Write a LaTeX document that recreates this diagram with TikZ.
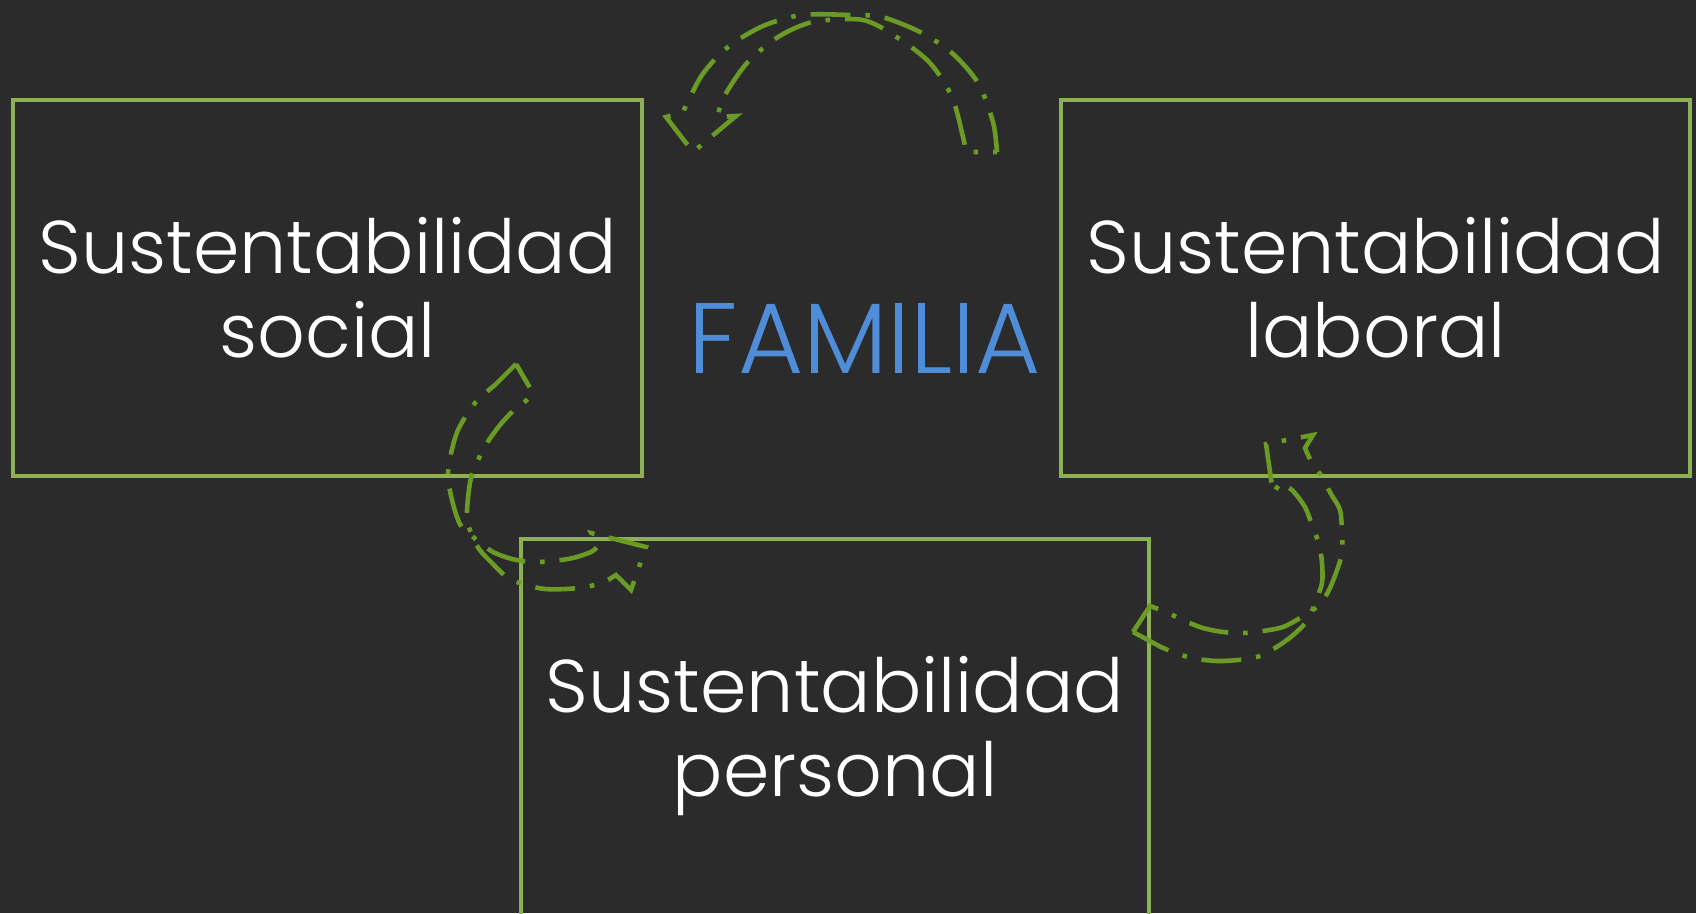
\documentclass[tikz,border=0pt]{standalone}
\usepackage{fontspec}
\setmainfont{Poppins}[UprightFont=* Light]
\usetikzlibrary{fit}
\definecolor{bg}{HTML}{2B2B2B}
\definecolor{boxgreen}{HTML}{8DB050}
\definecolor{arrowgreen}{HTML}{6A9B25}
\definecolor{famblue}{HTML}{4F8DD8}
\begin{document}
\begin{tikzpicture}[x=0.02cm,y=-0.02cm,
  boxframe/.style={draw=boxgreen,line width=2.5pt,inner sep=0pt,outer sep=0pt},
  boxtext/.style={text=white,font=\fontsize{42.5}{50}\selectfont,anchor=base,inner sep=0pt},
  famtext/.style={text=famblue,font=\fontsize{57}{64}\selectfont,anchor=base,inner sep=0pt},
  cyc/.style={draw=arrowgreen,line width=2.6pt,dash pattern=on 22.7pt off 8.5pt on 2.6pt off 8.5pt,line join=miter}]
\useasboundingbox (0,0) rectangle (1696,913);
\fill[bg] (0,0) rectangle (1696,913);
% boxes
\coordinate (s1) at (13,100); \coordinate (s2) at (642,476);
\coordinate (l1) at (1061,100); \coordinate (l2) at (1690,476);
\coordinate (p1) at (521,539); \coordinate (p2) at (1149,916);
\node[boxframe,fit=(s1)(s2)] (social) {};
\node[boxframe,fit=(l1)(l2)] (laboral) {};
\node[boxframe,fit=(p1)(p2)] (personal) {};
% texts
\node[boxtext] (socialA) at (327.5,273) {Sustentabilidad};
\node[boxtext] (socialB) at (327.5,357) {social};
\node[boxtext] (laboralA) at (1375.5,273) {Sustentabilidad};
\node[boxtext] (laboralB) at (1375.5,357) {laboral};
\node[boxtext] (personalA) at (835,712) {Sustentabilidad};
\node[boxtext] (personalB) at (835,796) {personal};
\node[famtext] (familia) at (865,373) {FAMILIA};
% circular arrows
\draw[cyc] (997,152) -- plot[smooth] coordinates {(997,152) (993,122) (978,83) (952,53) (920,32) (882,17) (850,15) (802,15) (763,26) (728,47) (702,75) (683,112)}
  -- (666,117) -- (693,152) -- (736,116) -- (717,117)
  -- plot[smooth] coordinates {(717,117) (725,95) (747,63) (778,37) (813,22) (863,20) (898,38) (930,63) (952,97) (963,137) (966,152)} -- cycle;
\draw[cyc] (516,364) -- plot[smooth] coordinates {(495,385) (475,403) (458,430) (450,458) (448,478) (452,500) (457,517) (462,527) (478,541) (493,552) (512,559) (532,562) (553,561) (573,558) (591,552) (597,547)}
  -- (591,533) -- (646,547) -- (631,590)
  -- plot[smooth] coordinates {(616,575) (604,582) (586,587) (566,589) (545,589) (526,585) (508,578) (493,564) (479,549) (471,533) (467,518) (468,498) (471,478) (478,460) (487,443) (500,425) (513,411) (528,399) (533,393)} -- cycle;
\draw[cyc] (1133,632) -- plot[smooth] coordinates {(1161,647) (1178,654) (1197,659) (1218,661) (1238,660) (1257,657) (1275,648) (1292,636) (1307,621) (1315,603) (1322,583) (1322,563) (1319,544) (1312,525) (1305,507) (1293,491) (1281,482)}
  -- (1273,493) -- (1266,444) -- (1313,435)
  -- plot[smooth] coordinates {(1305,448) (1311,461) (1322,477) (1331,494) (1340,510) (1342,533) (1342,553) (1336,573) (1328,592) (1318,606) (1300,618) (1283,627) (1263,631) (1243,633) (1223,632) (1203,628) (1185,621) (1166,612) (1150,606)} -- cycle;
\end{tikzpicture}
\end{document}
